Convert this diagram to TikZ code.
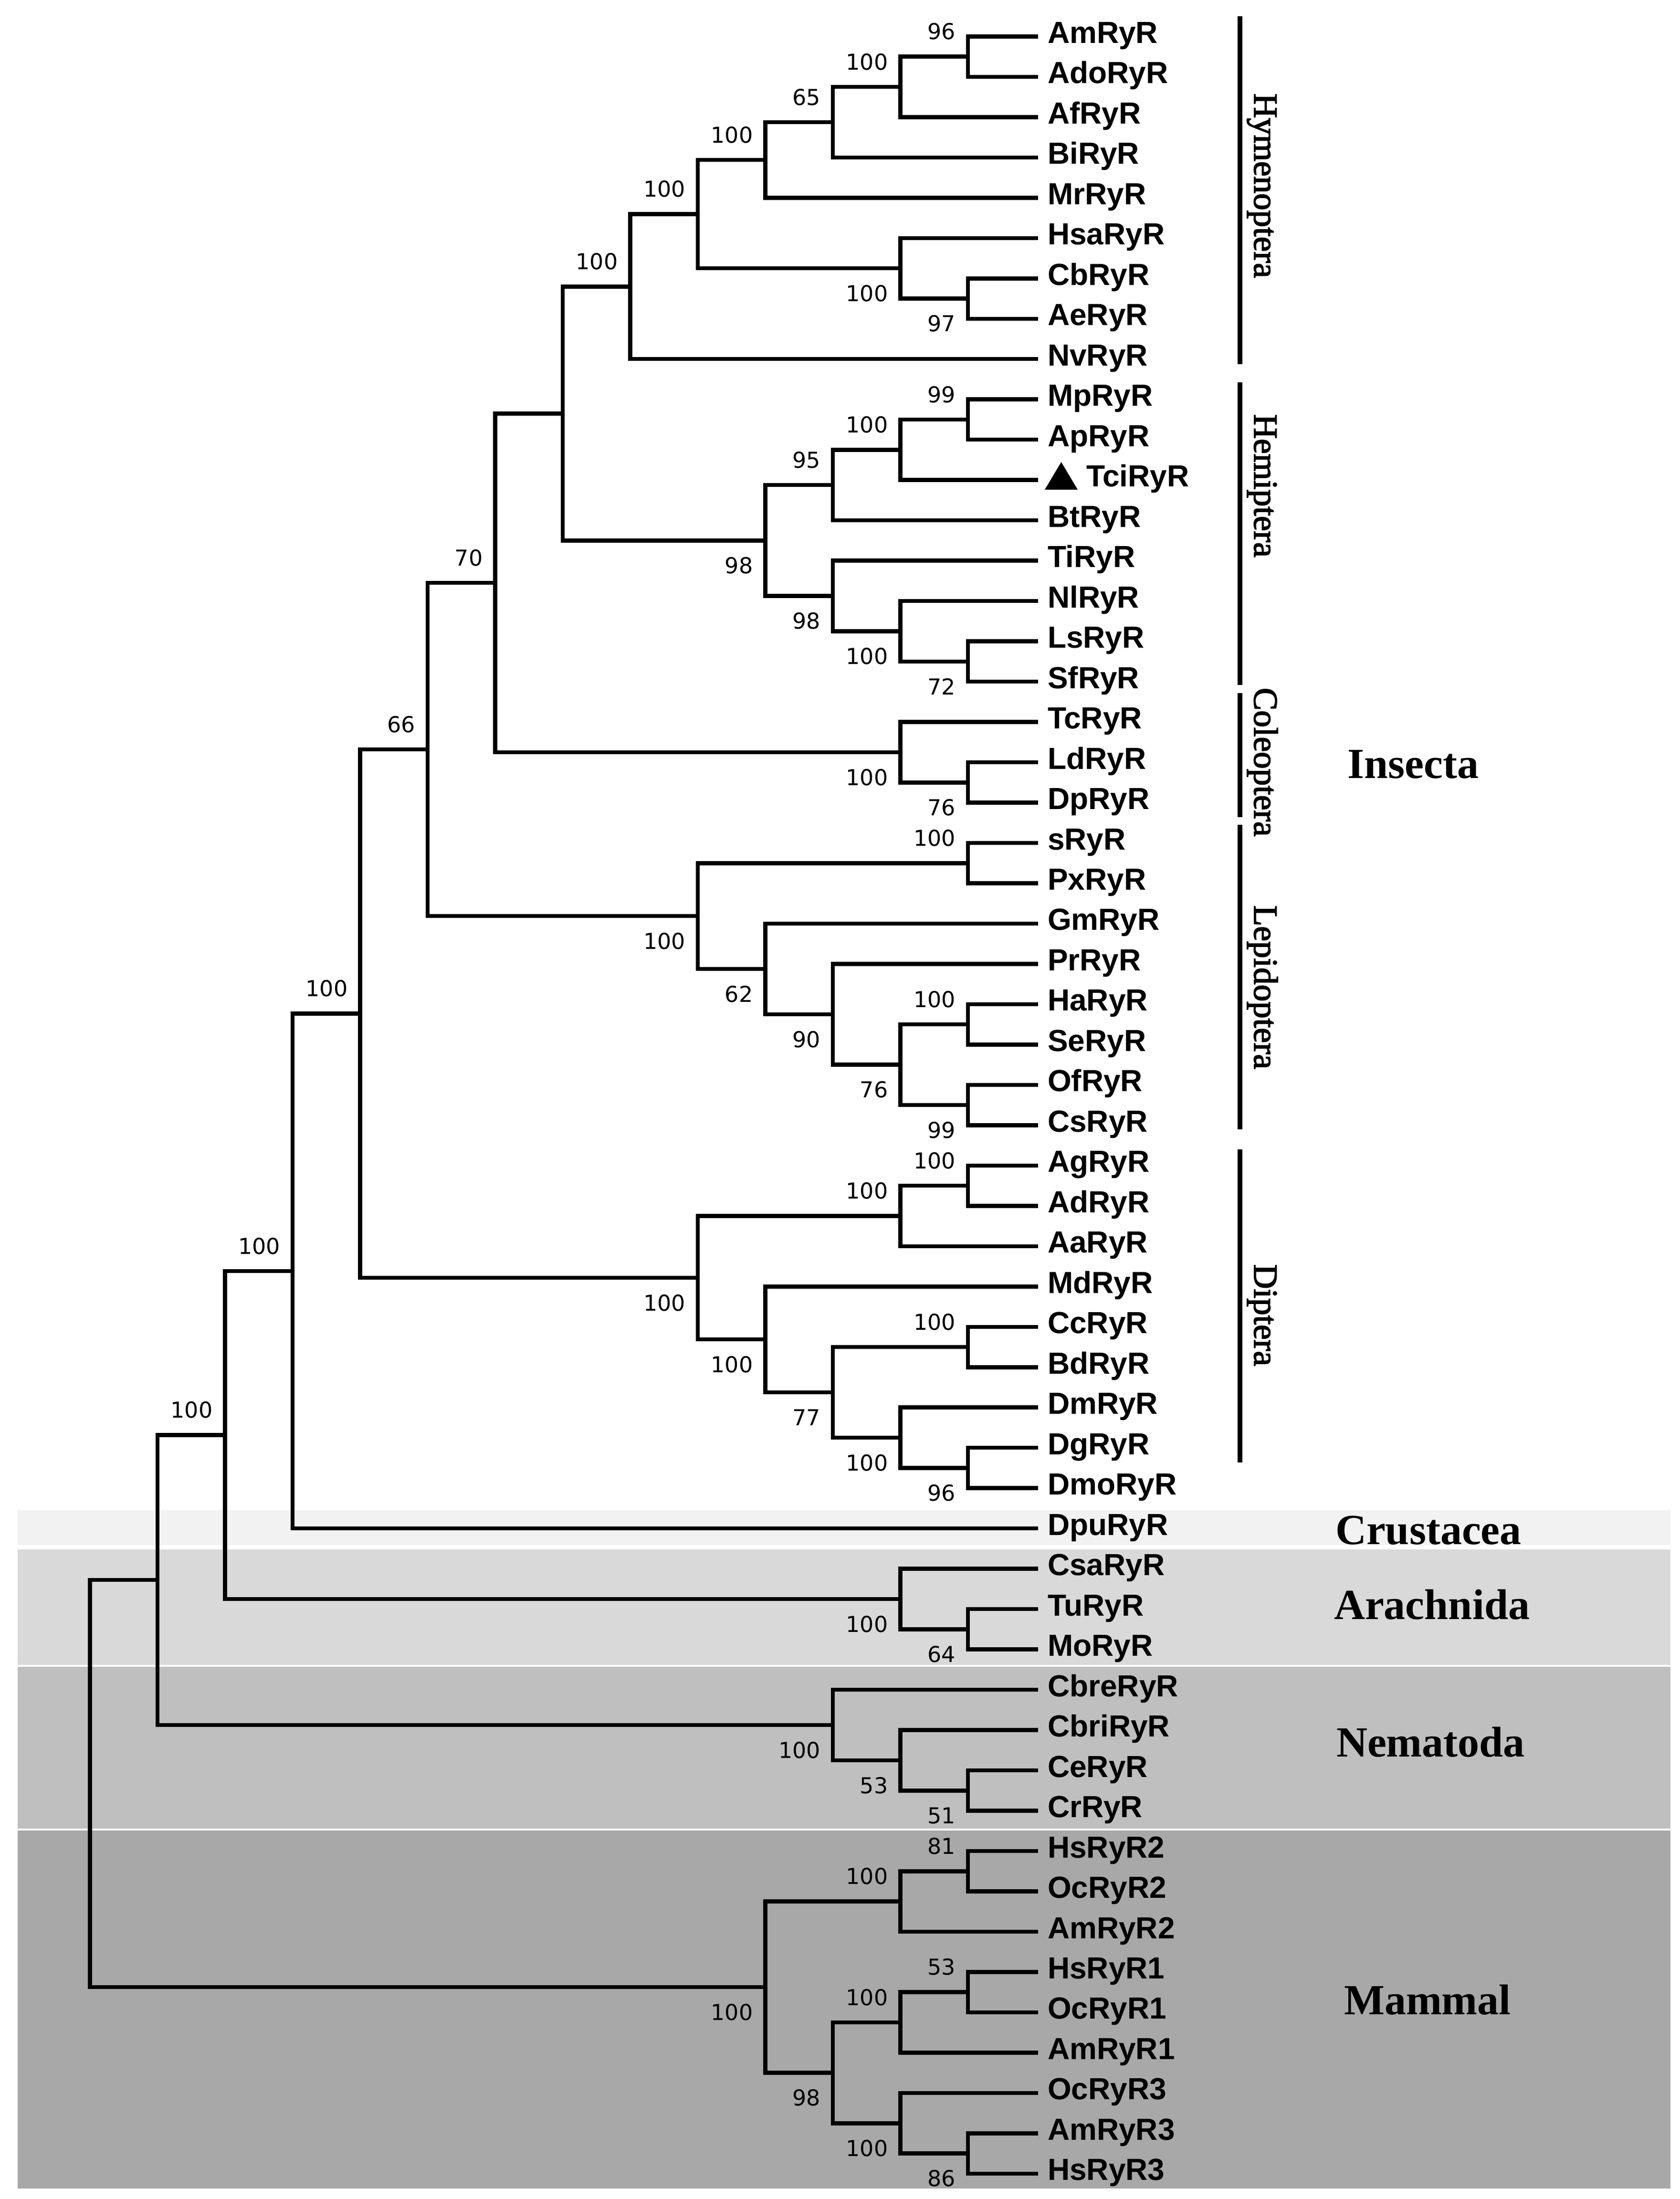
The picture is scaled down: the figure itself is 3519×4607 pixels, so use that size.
\documentclass[tikz,border=0pt]{standalone}
\usepackage{fontspec}
\setmainfont{Liberation Serif}
\newfontfamily\leaffont{Liberation Sans}
\newfontfamily\bsfont{DejaVu Sans}
\newfontfamily\ordfont[FakeBold=2.5]{Liberation Serif}
\definecolor{bandCrus}{HTML}{F2F2F2}
\definecolor{bandArach}{HTML}{D9D9D9}
\definecolor{bandNema}{HTML}{BFBFBF}
\definecolor{bandMamm}{HTML}{A8A8A8}
\newcommand\LX[1]{188.5+141.5*(#1)}
\newcommand\LY[1]{76.4+84.48*(#1)}
\begin{document}
\begin{tikzpicture}[x=0.2pt,y=-0.2pt,
  branch/.style={line width=1.7pt, line join=miter},
  grpline/.style={line width=1.9pt},
  leaflab/.style={font=\leaffont\bfseries\fontsize{12.8pt}{12.8pt}\selectfont, inner sep=0pt, anchor=base west},
  bsbase/.style={font=\bsfont\fontsize{9.2pt}{9.2pt}\selectfont, inner sep=0pt, anchor=east},
  bsu/.style={bsbase, xshift=-5pt, yshift=10.5pt},
  bsd/.style={bsbase, xshift=-5pt, yshift=-10.5pt},
  ordlab/.style={font=\ordfont\fontsize{14.2pt}{14.2pt}\selectfont, inner sep=0pt, rotate=-90, anchor=base west},
  clslab/.style={font=\bfseries\fontsize{18pt}{18pt}\selectfont, inner sep=0pt, anchor=base west}]
\useasboundingbox (0,0) rectangle (3519,4607);
\fill[white] (0,0) rectangle (3519,4607);
% background bands
\fill[bandCrus]  (37,3164) rectangle (3500,3237);
\fill[bandArach] (37,3246) rectangle (3500,3488);
\fill[bandNema]  (37,3492) rectangle (3500,3831);
\fill[bandMamm]  (37,3835) rectangle (3500,4585);
% leaf end points
\foreach \i in {0,...,53} { \coordinate (L\i) at (2175,{\LY{\i}}); }
% leaf labels
\foreach \i/\nm in {0/AmRyR,1/AdoRyR,2/AfRyR,3/BiRyR,4/MrRyR,5/HsaRyR,6/CbRyR,7/AeRyR,8/NvRyR,9/MpRyR,10/ApRyR,12/BtRyR,13/TiRyR,14/NlRyR,15/LsRyR,16/SfRyR,17/TcRyR,18/LdRyR,19/DpRyR,20/sRyR,21/PxRyR,22/GmRyR,23/PrRyR,24/HaRyR,25/SeRyR,26/OfRyR,27/CsRyR,28/AgRyR,29/AdRyR,30/AaRyR,31/MdRyR,32/CcRyR,33/BdRyR,34/DmRyR,35/DgRyR,36/DmoRyR,37/DpuRyR,38/CsaRyR,39/TuRyR,40/MoRyR,41/CbreRyR,42/CbriRyR,43/CeRyR,44/CrRyR,45/HsRyR2,46/OcRyR2,47/AmRyR2,48/HsRyR1,49/OcRyR1,50/AmRyR1,51/OcRyR3,52/AmRyR3,53/HsRyR3}
  { \node[leaflab] (T\i) at ([xshift=3.8pt,yshift=-2.8pt]L\i) {\nm}; }
\node[leaflab] (T11) at ([xshift=20pt,yshift=-2.8pt]L11) {TciRyR};
\fill (2189,1026) -- (2258,1026) -- (2223.5,968) -- cycle;
% internal nodes
\coordinate (h1) at ({\LX{13}},{\LY{0.5}});
\coordinate (h2) at ({\LX{12}},{\LY{1.25}});
\coordinate (h3) at ({\LX{11}},{\LY{2.125}});
\coordinate (h4) at ({\LX{10}},{\LY{3.0625}});
\coordinate (h5) at ({\LX{13}},{\LY{6.5}});
\coordinate (h6) at ({\LX{12}},{\LY{5.75}});
\coordinate (h7) at ({\LX{9}},{\LY{4.40625}});
\coordinate (h8) at ({\LX{8}},{\LY{6.203125}});
\coordinate (m1) at ({\LX{13}},{\LY{9.5}});
\coordinate (m2) at ({\LX{12}},{\LY{10.25}});
\coordinate (m3) at ({\LX{11}},{\LY{11.125}});
\coordinate (m4) at ({\LX{13}},{\LY{15.5}});
\coordinate (m5) at ({\LX{12}},{\LY{14.75}});
\coordinate (m6) at ({\LX{11}},{\LY{13.875}});
\coordinate (m7) at ({\LX{10}},{\LY{12.5}});
\coordinate (i1) at ({\LX{7}},{\LY{9.3515625}});
\coordinate (c1) at ({\LX{13}},{\LY{18.5}});
\coordinate (c2) at ({\LX{12}},{\LY{17.75}});
\coordinate (i2) at ({\LX{6}},{\LY{13.55078}});
\coordinate (l1) at ({\LX{13}},{\LY{20.5}});
\coordinate (l2) at ({\LX{13}},{\LY{24.5}});
\coordinate (l3) at ({\LX{13}},{\LY{26.5}});
\coordinate (l4) at ({\LX{12}},{\LY{25.5}});
\coordinate (l5) at ({\LX{11}},{\LY{24.25}});
\coordinate (l6) at ({\LX{10}},{\LY{23.125}});
\coordinate (l7) at ({\LX{9}},{\LY{21.8125}});
\coordinate (i3) at ({\LX{5}},{\LY{17.68164}});
\coordinate (d1) at ({\LX{13}},{\LY{28.5}});
\coordinate (d2) at ({\LX{12}},{\LY{29.25}});
\coordinate (d3) at ({\LX{13}},{\LY{32.5}});
\coordinate (d4) at ({\LX{13}},{\LY{35.5}});
\coordinate (d5) at ({\LX{12}},{\LY{34.75}});
\coordinate (d6) at ({\LX{11}},{\LY{33.625}});
\coordinate (d7) at ({\LX{10}},{\LY{32.3125}});
\coordinate (d8) at ({\LX{9}},{\LY{30.78125}});
\coordinate (i4) at ({\LX{4}},{\LY{24.23145}});
\coordinate (i5) at ({\LX{3}},{\LY{30.61572}});
\coordinate (a1) at ({\LX{13}},{\LY{39.5}});
\coordinate (a2) at ({\LX{12}},{\LY{38.75}});
\coordinate (i6) at ({\LX{2}},{\LY{34.68286}});
\coordinate (n1) at ({\LX{13}},{\LY{43.5}});
\coordinate (n2) at ({\LX{12}},{\LY{42.75}});
\coordinate (n3) at ({\LX{11}},{\LY{41.875}});
\coordinate (i7) at ({\LX{1}},{\LY{38.27893}});
\coordinate (mm1) at ({\LX{13}},{\LY{45.5}});
\coordinate (mm2) at ({\LX{12}},{\LY{46.25}});
\coordinate (mm3) at ({\LX{13}},{\LY{48.5}});
\coordinate (mm4) at ({\LX{12}},{\LY{49.25}});
\coordinate (mm5) at ({\LX{13}},{\LY{52.5}});
\coordinate (mm6) at ({\LX{12}},{\LY{51.75}});
\coordinate (mm7) at ({\LX{11}},{\LY{50.5}});
\coordinate (mm8) at ({\LX{10}},{\LY{48.375}});
\coordinate (root) at ({\LX{0}},{\LY{43.32697}});
% branches: Hymenoptera
\draw[branch] (L0) -| (h1) |- (L1);
\draw[branch] (h1) -| (h2) |- (L2);
\draw[branch] (h2) -| (h3) |- (L3);
\draw[branch] (h3) -| (h4) |- (L4);
\draw[branch] (L6) -| (h5) |- (L7);
\draw[branch] (L5) -| (h6) |- (h5);
\draw[branch] (h4) -| (h7) |- (h6);
\draw[branch] (h7) -| (h8) |- (L8);
% Hemiptera
\draw[branch] (L9) -| (m1) |- (L10);
\draw[branch] (m1) -| (m2) |- (L11);
\draw[branch] (m2) -| (m3) |- (L12);
\draw[branch] (L15) -| (m4) |- (L16);
\draw[branch] (L14) -| (m5) |- (m4);
\draw[branch] (L13) -| (m6) |- (m5);
\draw[branch] (m3) -| (m7) |- (m6);
\draw[branch] (h8) -| (i1) |- (m7);
% Coleoptera
\draw[branch] (L18) -| (c1) |- (L19);
\draw[branch] (L17) -| (c2) |- (c1);
\draw[branch] (i1) -| (i2) |- (c2);
% Lepidoptera
\draw[branch] (L20) -| (l1) |- (L21);
\draw[branch] (L24) -| (l2) |- (L25);
\draw[branch] (L26) -| (l3) |- (L27);
\draw[branch] (l2) -| (l4) |- (l3);
\draw[branch] (L23) -| (l5) |- (l4);
\draw[branch] (L22) -| (l6) |- (l5);
\draw[branch] (l1) -| (l7) |- (l6);
\draw[branch] (i2) -| (i3) |- (l7);
% Diptera
\draw[branch] (L28) -| (d1) |- (L29);
\draw[branch] (d1) -| (d2) |- (L30);
\draw[branch] (L32) -| (d3) |- (L33);
\draw[branch] (L35) -| (d4) |- (L36);
\draw[branch] (L34) -| (d5) |- (d4);
\draw[branch] (d3) -| (d6) |- (d5);
\draw[branch] (L31) -| (d7) |- (d6);
\draw[branch] (d2) -| (d8) |- (d7);
\draw[branch] (i3) -| (i4) |- (d8);
\draw[branch] (i4) -| (i5) |- (L37);
% Arachnida
\draw[branch] (L39) -| (a1) |- (L40);
\draw[branch] (L38) -| (a2) |- (a1);
\draw[branch] (i5) -| (i6) |- (a2);
% Nematoda
\draw[branch] (L43) -| (n1) |- (L44);
\draw[branch] (L42) -| (n2) |- (n1);
\draw[branch] (L41) -| (n3) |- (n2);
\draw[branch] (i6) -| (i7) |- (n3);
% Mammal
\draw[branch] (L45) -| (mm1) |- (L46);
\draw[branch] (mm1) -| (mm2) |- (L47);
\draw[branch] (L48) -| (mm3) |- (L49);
\draw[branch] (mm3) -| (mm4) |- (L50);
\draw[branch] (L52) -| (mm5) |- (L53);
\draw[branch] (L51) -| (mm6) |- (mm5);
\draw[branch] (mm4) -| (mm7) |- (mm6);
\draw[branch] (mm2) -| (mm8) |- (mm7);
\draw[branch] (i7) -| (root) |- (mm8);
% bootstrap values above
\foreach \n/\v in {h1/96,h2/100,h3/65,h4/100,h7/100,h8/100,m1/99,m2/100,m3/95,i2/70,i3/66,l1/100,l2/100,i4/100,d1/100,d2/100,d3/100,i5/100,i6/100,mm1/81,mm2/100,mm3/53,mm4/100}
  { \node[bsu] (b-\n) at (\n) {\v}; }
% bootstrap values below
\foreach \n/\v in {h5/97,h6/100,m4/72,m5/100,m6/98,m7/98,c1/76,c2/100,l3/99,l4/76,l5/90,l6/62,l7/100,d4/96,d5/100,d6/77,d7/100,d8/100,a1/64,a2/100,n1/51,n2/53,n3/100,mm5/86,mm6/100,mm7/98,mm8/100}
  { \node[bsd] (b-\n) at (\n) {\v}; }
% order group lines
\coordinate (gHa) at (2598,34);   \coordinate (gHb) at (2598,763);
\coordinate (gEa) at (2598,801);  \coordinate (gEb) at (2598,1435);
\coordinate (gCa) at (2598,1452); \coordinate (gCb) at (2598,1712);
\coordinate (gLa) at (2598,1728); \coordinate (gLb) at (2598,2366);
\coordinate (gDa) at (2598,2408); \coordinate (gDb) at (2598,3064);
\draw[grpline] (gHa) -- (gHb);
\draw[grpline] (gEa) -- (gEb);
\draw[grpline] (gCa) -- (gCb);
\draw[grpline] (gLa) -- (gLb);
\draw[grpline] (gDa) -- (gDb);
% order labels
\node[ordlab] (oHym) at (2628,195) {Hymenoptera};
\node[ordlab] (oHem) at (2628,867) {Hemiptera};
\node[ordlab] (oCol) at (2628,1440) {Coleoptera};
\node[ordlab] (oLep) at (2628,1896) {Lepidoptera};
\node[ordlab] (oDip) at (2628,2648) {Diptera};
% class labels
\node[clslab] (cIns) at (2822,1630) {Insecta};
\node[clslab] (cCru) at (2797,3235) {Crustacea};
\node[clslab] (cAra) at (2794,3392) {Arachnida};
\node[clslab] (cNem) at (2799,3680) {Nematoda};
\node[clslab] (cMam) at (2815,4220) {Mammal};
\end{tikzpicture}
\end{document}
